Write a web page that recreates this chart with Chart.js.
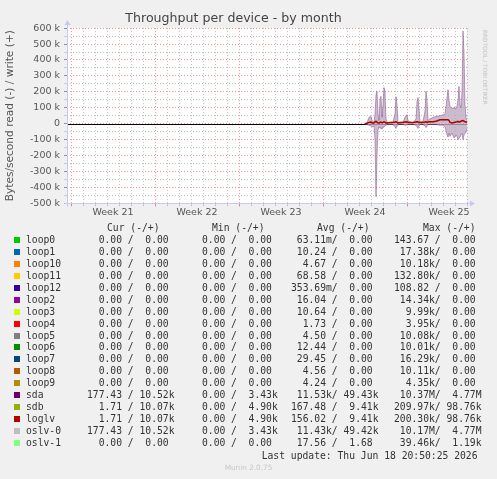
<!DOCTYPE html>
<html><head><meta charset="utf-8">
<script src="https://cdn.jsdelivr.net/npm/chart.js@4.4.1/dist/chart.umd.min.js"></script>
<style>
html,body{margin:0;padding:0;background:#f0f0f0;width:497px;height:479px;overflow:hidden;}
#wrap{position:relative;width:497px;height:479px;}
canvas{position:absolute;left:0;top:0;}
.t{position:absolute;white-space:pre;font-family:'DejaVu Sans Mono',monospace;font-size:9.7px;line-height:12px;height:12px;color:#333;}
.sq{position:absolute;width:6px;height:6px;}
#rrd{position:absolute;left:482px;top:30px;writing-mode:vertical-rl;font-family:'DejaVu Sans',sans-serif;font-size:5.8px;color:#c4c4c4;white-space:nowrap;}
#munin{position:absolute;left:0;width:497px;text-align:center;top:463px;font-family:'DejaVu Sans',sans-serif;font-size:7.3px;color:#c8c8c8;}
</style></head>
<body><div id="wrap"><canvas id="c" width="497" height="225"></canvas><div id="legend"></div><div id="rrd">RRDTOOL / TOBI OETIKER</div><div id="munin">Munin 2.0.75</div></div>
<script>
// ---- data (x = hours from left edge of the month view; values in kB/s) ----
const hours = [596,600,604,608,610,614,616,618,620,622,624,626,628,630,632,634,636,638,640,646,652,656,658,660,662,666,672,676,680,682,686,692,698,700,702,704,706,712,716,718,720,722,726,732,738,746,752,756,760,762,764,766,770,774,778,780,782,784,786,788,790,792,794,796,798,800];
const sdaWrite = [0,5,40,45,20,10,60,180,204,60,20,150,172,40,120,227,200,30,10,5,10,60,170,120,10,5,10,40,57,20,10,5,30,140,164,90,10,15,80,204,150,20,30,40,45,50,55,60,160,214,150,110,95,100,95,110,150,235,120,100,200,583,450,120,40,20];
const sdaRead = [0,5,10,15,20,15,100,459,200,40,20,30,25,35,20,20,15,10,5,5,5,20,30,15,5,3,5,10,8,5,5,3,10,20,30,15,5,5,15,25,15,5,5,5,5,10,10,20,70,85,60,80,60,90,70,80,100,90,85,70,60,100,70,60,50,30];
const loglvWrite = [0,3,8,10,5,5,10,15,10,5,5,8,10,5,8,12,10,5,5,8,8,10,12,8,5,8,8,10,12,8,8,8,10,12,10,8,8,8,10,12,8,10,12,12,15,25,25,25,25,25,20,8,5,8,10,12,15,10,12,15,18,20,15,12,10,8];
const weekLabels = ['Week 21','Week 22','Week 23','Week 24','Week 25'];
const yMin = -500, yMax = 600;

const names = ['loop0','loop1','loop10','loop11','loop12','loop2','loop3','loop4','loop5','loop6','loop7','loop8','loop9','sda','sdb','loglv','oslv-0','oslv-1'];
const colors = ['#00CC00','#0066B3','#FF8000','#FFCC00','#330099','#990099','#CCFF00','#FF0000','#808080','#008F00','#00487D','#B35A00','#B38F00','#6B006B','#8FB300','#B30000','#BEBEBE','#80FF80'];
const curCol = ['  0.00 /  0.00 ','  0.00 /  0.00 ','  0.00 /  0.00 ','  0.00 /  0.00 ','  0.00 /  0.00 ','  0.00 /  0.00 ','  0.00 /  0.00 ','  0.00 /  0.00 ','  0.00 /  0.00 ','  0.00 /  0.00 ','  0.00 /  0.00 ','  0.00 /  0.00 ','  0.00 /  0.00 ','177.43 / 10.52k','  1.71 / 10.07k','  1.71 / 10.07k','177.43 / 10.52k','  0.00 /  0.00 '];
const minCol = ['  0.00 /  0.00 ','  0.00 /  0.00 ','  0.00 /  0.00 ','  0.00 /  0.00 ','  0.00 /  0.00 ','  0.00 /  0.00 ','  0.00 /  0.00 ','  0.00 /  0.00 ','  0.00 /  0.00 ','  0.00 /  0.00 ','  0.00 /  0.00 ','  0.00 /  0.00 ','  0.00 /  0.00 ','  0.00 /  3.43k','  0.00 /  4.90k','  0.00 /  4.90k','  0.00 /  3.43k','  0.00 /  0.00 '];
const avgCol = [' 63.11m/  0.00 ',' 10.24 /  0.00 ','  4.67 /  0.00 ',' 68.58 /  0.00 ','353.69m/  0.00 ',' 16.04 /  0.00 ',' 10.64 /  0.00 ','  1.73 /  0.00 ','  4.50 /  0.00 ',' 12.44 /  0.00 ',' 29.45 /  0.00 ','  4.56 /  0.00 ','  4.24 /  0.00 ',' 11.53k/ 49.43k','167.48 /  9.41k','156.02 /  9.41k',' 11.43k/ 49.42k',' 17.56 /  1.68 '];
const maxCol = ['143.67 /  0.00 ',' 17.38k/  0.00 ',' 10.18k/  0.00 ','132.80k/  0.00 ','108.82 /  0.00 ',' 14.34k/  0.00 ','  9.99k/  0.00 ','  3.95k/  0.00 ',' 10.08k/  0.00 ',' 10.01k/  0.00 ',' 16.29k/  0.00 ',' 10.11k/  0.00 ','  4.35k/  0.00 ',' 10.37M/  4.77M','209.97k/ 98.76k','200.30k/ 98.76k',' 10.17M/  4.77M',' 39.46k/  1.19k'];
const lastUpdate = 'Last update: Thu Jun 18 20:50:25 2026';

// ---- layout constants ----
const X_MAX = 800, WEEK0 = 8, DAY = 24, WEEK = 168;
const MAJOR = 'rgba(235,110,110,0.75)', MINOR = 'rgba(140,140,140,0.55)';

const pts = (arr, sign) => hours.map((h, i) => ({x: h, y: sign * arr[i]}));

const bgPlugin = {
  id: 'bg',
  beforeDraw(chart) {
    const a = chart.chartArea, c = chart.ctx;
    c.save(); c.fillStyle = '#ffffff'; c.fillRect(a.left, a.top, a.right - a.left, a.bottom - a.top); c.restore();
  },
  beforeDatasetsDraw(chart) {
    const a = chart.chartArea, c = chart.ctx, y0 = Math.round(chart.scales.y.getPixelForValue(0)) + 0.5;
    c.save(); c.strokeStyle = '#000'; c.lineWidth = 1; c.beginPath(); c.moveTo(a.left, y0); c.lineTo(a.right, y0); c.stroke(); c.restore();
  },
  afterDraw(chart) {
    const a = chart.chartArea, c = chart.ctx;
    const x = Math.round(a.left) + 0.5, y = Math.round(a.bottom) + 0.5;
    c.save();
    c.strokeStyle = '#c8c8f4'; c.fillStyle = '#c8c8f4'; c.lineWidth = 1;
    c.beginPath(); c.moveTo(x, y + 3); c.lineTo(x, a.top - 4); c.stroke();
    c.beginPath(); c.moveTo(x - 3, y); c.lineTo(a.right + 4, y); c.stroke();
    c.beginPath(); c.moveTo(x - 3, a.top - 3); c.lineTo(x + 3, a.top - 3); c.lineTo(x, a.top - 8); c.closePath(); c.fill();
    c.beginPath(); c.moveTo(a.right + 3, y - 3); c.lineTo(a.right + 3, y + 3); c.lineTo(a.right + 8, y); c.closePath(); c.fill();
    c.restore();
  }
};

Chart.defaults.font.family = "'DejaVu Sans', sans-serif";

new Chart(document.getElementById('c'), {
  type: 'line',
  data: {
    datasets: [
      {label: 'loglv', data: pts(loglvWrite, 1), borderColor: '#B30000', borderWidth: 1.5, pointRadius: 0, fill: false, order: 1},
      {label: 'sdb', data: pts(loglvWrite, 1), borderColor: '#8FB300', borderWidth: 1, pointRadius: 0, fill: false, order: 2},
      {label: 'sda write', data: pts(sdaWrite, 1), borderColor: 'rgba(120,60,125,0.45)', backgroundColor: 'rgba(190,170,195,0.8)', borderWidth: 1, pointRadius: 0, fill: 'origin', order: 3},
      {label: 'sda read', data: pts(sdaRead, -1), borderColor: 'rgba(120,60,125,0.45)', backgroundColor: 'rgba(190,170,195,0.8)', borderWidth: 1, pointRadius: 0, fill: 'origin', order: 4}
    ]
  },
  options: {
    responsive: false, animation: false, devicePixelRatio: 1,
    layout: {padding: {left: 0, right: 30, top: 0, bottom: 0}},
    plugins: {
      legend: {display: false}, tooltip: {enabled: false},
      title: {display: true, text: 'Throughput per device - by month', color: '#444', font: {size: 12.6, weight: 'normal'}, padding: {top: 11, bottom: 2}}
    },
    scales: {
      x: {
        type: 'linear', min: 0, max: X_MAX,
        afterBuildTicks(scale) {
          const t = [];
          for (let h = WEEK0; h <= X_MAX; h += DAY) t.push({value: h});
          weekLabels.forEach((w, i) => t.push({value: WEEK0 + WEEK / 2 + WEEK * i}));
          t.sort((p, q) => p.value - q.value);
          scale.ticks = t;
        },
        afterFit(scale) { scale.height = 225 - 203.3; },
        border: {display: false, dash: [1, 2]},
        grid: {
          color: ctx => { const v = ctx.tick.value; if ((v - WEEK0) % WEEK === 0) return MAJOR; if ((v - WEEK0) % DAY === 0) return MINOR; return 'rgba(0,0,0,0)'; },
          tickColor: ctx => { const v = ctx.tick.value; if ((v - WEEK0) % WEEK === 0) return 'rgba(230,100,100,0.8)'; if ((v - WEEK0) % DAY === 0) return 'rgba(150,150,150,0.5)'; return 'rgba(0,0,0,0)'; },
          tickLength: 3, drawTicks: true
        },
        ticks: {
          autoSkip: false, maxRotation: 0, padding: 1, color: '#555', font: {size: 9.5},
          callback: v => { const i = (v - WEEK0 - WEEK / 2) / WEEK; return Number.isInteger(i) ? weekLabels[i] : ''; }
        }
      },
      y: {
        min: yMin, max: yMax,
        afterFit(scale) { scale.width = 67; },
        border: {display: false, dash: [1, 2]},
        grid: {
          color: ctx => (ctx.tick.value % 100 === 0 ? MAJOR : MINOR),
          tickColor: ctx => (ctx.tick.value % 100 === 0 ? 'rgba(120,120,120,0.8)' : 'rgba(150,150,150,0.4)'),
          tickLength: 3, drawTicks: true
        },
        ticks: {
          stepSize: 50, autoSkip: false, padding: 4, color: '#555', font: {size: 9.5},
          callback: v => (v % 100 === 0 ? (v === 0 ? '0' : v + ' k') : '')
        },
        title: {display: true, text: 'Bytes/second read (-) / write (+)', color: '#555', font: {size: 10.6}, padding: {top: 3.6, bottom: 0}}
      }
    }
  },
  plugins: [bgPlugin]
});

// ---- legend table (text) ----
const lg = document.getElementById('legend');
function put(txt, x, yc, color) {
  const d = document.createElement('div'); d.className = 't'; d.textContent = txt;
  d.style.left = x + 'px'; d.style.top = (yc - 6) + 'px'; if (color) d.style.color = color; lg.appendChild(d);
}
put('Cur (-/+)', 107, 227.5); put('Min (-/+)', 212, 227.5); put('Avg (-/+)', 317, 227.5); put('Max (-/+)', 423, 227.5);
names.forEach((n, i) => {
  const yc = 240 + i * 11.94;
  const s = document.createElement('div'); s.className = 'sq'; s.style.background = colors[i];
  s.style.left = '14px'; s.style.top = (yc - 3) + 'px'; lg.appendChild(s);
  put(n, 26, yc); put(curCol[i], 87, yc); put(minCol[i], 190.3, yc); put(avgCol[i], 291, yc); put(maxCol[i], 394, yc);
});
put(lastUpdate, 261.7, 455.7);
</script>
</body></html>
